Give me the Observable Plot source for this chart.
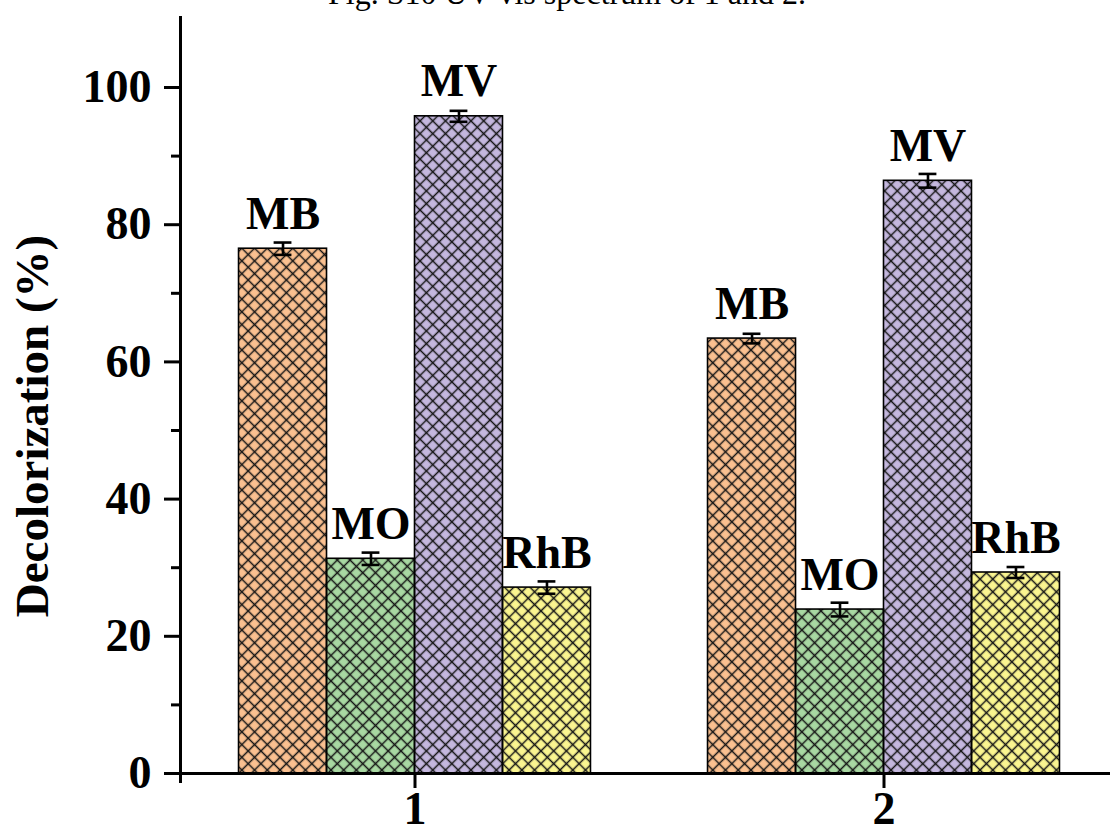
<!DOCTYPE html>
<html>
<head>
<meta charset="utf-8">
<script src="https://cdn.jsdelivr.net/npm/d3@7"></script>
<script src="https://cdn.jsdelivr.net/npm/@observablehq/plot@0.6"></script>
<style>
  html, body { margin: 0; padding: 0; background: #fff; overflow: hidden; }
  #wrap { position: relative; width: 1110px; height: 839px; }
  #caption { position: absolute; left: 12px; top: -23px; width: 1110px; text-align: center;
    font-family: "Liberation Serif", "Times New Roman", serif; font-size: 32px; line-height: 32px; color: #000; z-index: 2; }
  #chart { position: absolute; left: 0; top: 0; }
</style>
</head>
<body>
<div id="wrap">
  <div id="caption">Fig. S10 UV-vis spectrum of 1 and 2.</div>
  <div id="chart"></div>
</div>
<script>
// ---- data ----
const groups = [1, 2];
const groupLabels = ["1", "2"];
const dyes = ["MB", "MO", "MV", "RhB"];
const values1 = [76.5, 31.3, 95.8, 27.1];
const values2 = [63.4, 23.9, 86.4, 29.3];
const errors1 = [0.9, 0.9, 0.8, 0.9];
const errors2 = [0.7, 1.0, 1.0, 0.8];
const dyeColors = ["#FAC090", "#A8D8A2", "#C4B7DE", "#FAF590"];
const yMajorTicks = [0, 20, 40, 60, 80, 100];
const yMinorTicks = [10, 30, 50, 70, 90];
const yLabel = "Decolorization (%)";

// ---- build table ----
const barW = 0.1876; // bar width in group units
const seriesValues = [values1, values2];
const seriesErrors = [errors1, errors2];
const data = [];
groups.forEach((g, gi) => {
  dyes.forEach((d, di) => {
    const x1 = g + (di - 2) * barW;
    data.push({group: g, dye: d, x1, x2: x1 + barW, xc: x1 + barW / 2,
      value: seriesValues[gi][di], err: seriesErrors[gi][di]});
  });
});
const capW = 0.019;

const font = '"Liberation Serif", "Times New Roman", serif';

const defs = () => {
  const g = d3.create("svg:g");
  const p = g.append("defs").append("pattern")
    .attr("id", "xhatch").attr("patternUnits", "userSpaceOnUse")
    .attr("width", 9).attr("height", 9)
    .attr("patternTransform", "rotate(45)");
  p.append("path").attr("d", "M0 4.5H9M4.5 0V9")
    .attr("stroke", "#151515").attr("stroke-width", 1.5).attr("fill", "none");
  return g.node();
};

const chart = Plot.plot({
  width: 1110,
  height: 839,
  marginLeft: 180,
  marginRight: 0,
  marginTop: 16,
  marginBottom: 66,
  style: {fontFamily: font, background: "#fff", color: "#000"},
  x: {type: "linear", domain: [0.5, 0.5 + 930 / 469], axis: null},
  y: {domain: [0, 110.35], axis: null},
  color: {domain: dyes, range: dyeColors},
  marks: [
    defs,
    Plot.rectY(data, {x1: "x1", x2: "x2", y1: 0, y2: "value", fill: "dye"}),
    Plot.rectY(data, {x1: "x1", x2: "x2", y1: 0, y2: "value", fill: "url(#xhatch)", stroke: "#000", strokeWidth: 1.6}),
    Plot.ruleX(data, {x: "xc", y1: d => d.value - d.err, y2: d => d.value + d.err, stroke: "#000", strokeWidth: 2.6}),
    Plot.ruleY(data, {y: d => d.value + d.err, x1: d => d.xc - capW, x2: d => d.xc + capW, stroke: "#000", strokeWidth: 2.6}),
    Plot.ruleY(data, {y: d => d.value - d.err, x1: d => d.xc - capW, x2: d => d.xc + capW, stroke: "#000", strokeWidth: 2.6}),
    Plot.text(data, {x: "xc", y: "value", text: "dye", dy: -20, lineAnchor: "bottom",
      fontSize: 46, fontWeight: "bold", fill: "#000"}),
    Plot.axisY({ticks: yMajorTicks, tickSize: 16, tickPadding: 13, strokeWidth: 3,
      fontSize: 46, fontWeight: "bold", label: null, tickFormat: d => String(d)}),
    Plot.axisY({ticks: yMinorTicks, tickSize: 9, strokeWidth: 3, text: null, label: null}),
    Plot.axisX({ticks: groups, tickSize: 15, tickPadding: 3, strokeWidth: 3,
      fontSize: 46, fontWeight: "bold", label: null, tickFormat: d => groupLabels[groups.indexOf(d)]}),
    Plot.ruleY([0], {stroke: "#000", strokeWidth: 3}),
    Plot.ruleX([0.5], {stroke: "#000", strokeWidth: 3, insetBottom: -10}),
    Plot.text([yLabel], {frameAnchor: "left", textAnchor: "middle", lineAnchor: "middle", rotate: -90, dx: -148, dy: 31,
      fontSize: 47, fontWeight: "bold", fill: "#000"})
  ]
});
document.getElementById("chart").appendChild(chart);
</script>
</body>
</html>
